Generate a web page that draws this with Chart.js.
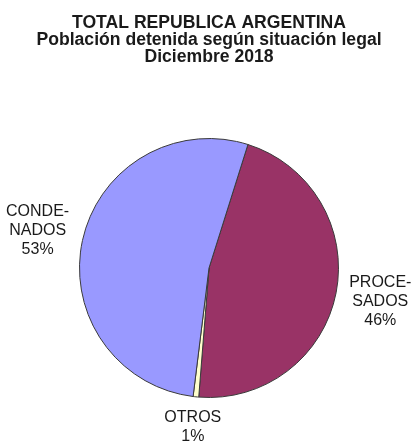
<!DOCTYPE html>
<html>
<head>
<meta charset="utf-8">
<script src="https://cdn.jsdelivr.net/npm/chart.js@4.4.0/dist/chart.umd.min.js"></script>
<style>
  html, body { margin: 0; padding: 0; background: #fff; }
  #wrap { width: 413px; height: 441px; position: relative; }
</style>
</head>
<body>
<div id="wrap"><canvas id="pie"></canvas></div>
<script>
// data (clockwise from the top boundary)
const categories = ['PROCE-\nSADOS', 'OTROS', 'CONDE-\nNADOS']
const values = [46.4, 0.7, 52.9]
const colors = ['#993366', '#FFFFCC', '#9999FF']
const titleLines = ['TOTAL REPUBLICA ARGENTINA', 'Población detenida según situación legal', 'Diciembre 2018']

/*========================== Outside labels =============================*/
const outsideLabels = {
    id: 'outsideLabels',
    afterDatasetsDraw(chart) {
        const ctx = chart.ctx
        const meta = chart.getDatasetMeta(0)
        const total = values.reduce((a, b) => a + b, 0)
        const lineH = 19
        ctx.save()
        ctx.font = '16px "Liberation Sans", Arial, sans-serif'
        ctx.fillStyle = '#1a1a1a'
        ctx.textAlign = 'center'
        ctx.textBaseline = 'middle'
        meta.data.forEach((arc, i) => {
            const p = arc.getProps(['x', 'y', 'startAngle', 'endAngle', 'outerRadius'], true)
            const mid = (p.startAngle + p.endAngle) / 2
            const dx = Math.cos(mid), dy = Math.sin(mid)
            const lines = categories[i].split('\n')
            lines.push(Math.round(values[i] / total * 100) + '%')
            let w = 0
            lines.forEach(l => { w = Math.max(w, ctx.measureText(l).width) })
            const h = lines.length * lineH
            const dist = p.outerRadius + 9 + Math.abs(dx) * w / 2 + Math.abs(dy) * h / 2
            const cx = p.x + dx * dist
            const cy = p.y + dy * dist
            lines.forEach((l, k) => {
                ctx.fillText(l, cx, cy - h / 2 + lineH / 2 + k * lineH)
            })
        })
        ctx.restore()
    }
}

/*========================== Chart =============================*/
var dataPie = {
    labels: categories,
    datasets: [
        {
            data: values,
            backgroundColor: colors,
            borderColor: '#3a3a3a',
            borderWidth: 1
        }
    ]
}
var configPie = {
    type: 'pie',
    data: dataPie,
    options: {
        responsive: true,
        maintainAspectRatio: false,
        animation: false,
        rotation: 17.5,
        layout: {
            padding: { left: 5, right: 0, bottom: 43 }
        },
        plugins: {
            legend: { display: false },
            tooltip: { enabled: false },
            title: {
                display: true,
                text: titleLines,
                color: '#1a1a1a',
                font: { family: '"Liberation Sans", Arial, sans-serif', size: 17.6, weight: 'bold', lineHeight: 17 / 17.6 },
                padding: { top: 15, bottom: 72 }
            }
        }
    },
    plugins: [outsideLabels]
}
var pieChart = new Chart(document.getElementById('pie'), configPie)
</script>
</body>
</html>
